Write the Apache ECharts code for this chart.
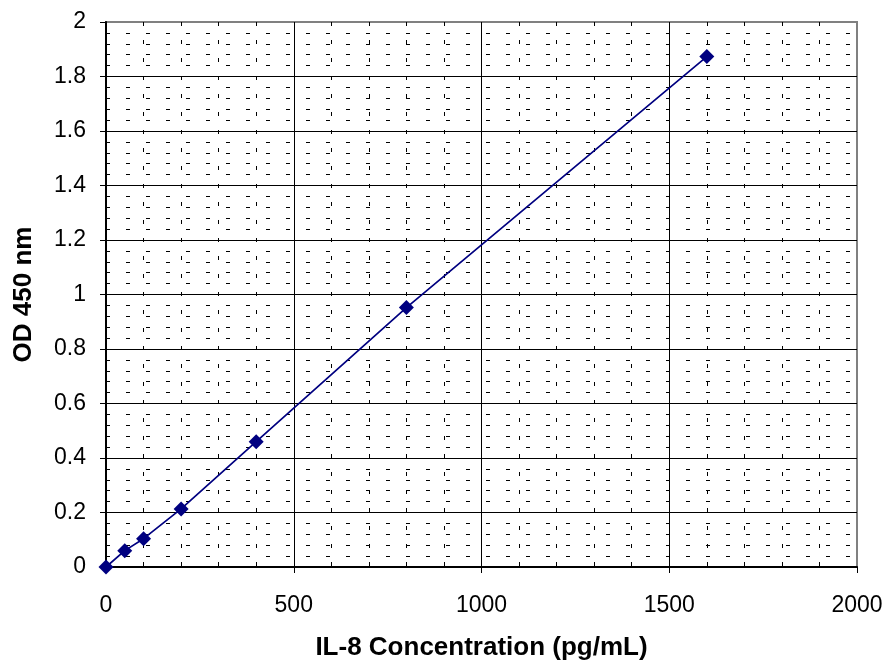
<!DOCTYPE html>
<html><head><meta charset="utf-8">
<script src="https://cdn.jsdelivr.net/npm/echarts@6/dist/echarts.min.js"></script>
<style>html,body{margin:0;padding:0;background:#fff}#c{width:889px;height:666px}</style>
</head><body><div id="c"></div>
<script>
const concentration = [0, 50, 100, 200, 400, 800, 1600];
const od450 = [0, 0.06, 0.104, 0.213, 0.46, 0.952, 1.873];
const xName = 'IL-8 Concentration (pg/mL)';
const yName = 'OD 450 nm';

const chart = echarts.init(document.getElementById('c'));
const font = 'Liberation Sans, Arial, sans-serif';
chart.setOption({
  animation: false,
  grid: {left: 106, top: 22, right: 32, bottom: 98, show: true, borderColor: '#808080', borderWidth: 2, backgroundColor: 'transparent'},
  xAxis: {
    type: 'value', min: 0, max: 2000, interval: 500,
    name: xName, nameLocation: 'middle', nameGap: 68,
    nameTextStyle: {fontFamily: font, fontWeight: 'bold', fontSize: 26, color: '#000'},
    axisLine: {show: true, lineStyle: {color: '#000', width: 2}},
    axisTick: {show: true, length: 6, lineStyle: {color: '#000'}},
    axisLabel: {fontFamily: font, fontSize: 23, color: '#000', margin: 27, formatter: v => String(v)},
    splitLine: {show: true, showMinLine: false, showMaxLine: false, lineStyle: {color: '#000', width: 1}},
    minorTick: {show: false, splitNumber: 5},
    minorSplitLine: {show: true, lineStyle: {color: '#000', width: 1, type: [4, 14]}}
  },
  yAxis: {
    type: 'value', min: 0, max: 2, interval: 0.2,
    name: yName, nameLocation: 'middle', nameGap: 69,
    nameTextStyle: {fontFamily: font, fontWeight: 'bold', fontSize: 26, color: '#000'},
    axisLine: {show: true, lineStyle: {color: '#000', width: 2}},
    axisTick: {show: true, length: 6, lineStyle: {color: '#000'}},
    axisLabel: {fontFamily: font, fontSize: 23, color: '#000', margin: 20, formatter: v => String(Math.round(v * 10) / 10)},
    splitLine: {show: true, showMinLine: false, showMaxLine: false, lineStyle: {color: '#000', width: 1}},
    minorTick: {show: false, splitNumber: 5},
    minorSplitLine: {show: true, lineStyle: {color: '#000', width: 1, type: [4, 16]}}
  },
  series: [{
    type: 'line',
    data: concentration.map((c, i) => [c, od450[i]]),
    symbol: 'diamond', symbolSize: 15,
    lineStyle: {color: '#000080', width: 1.7},
    itemStyle: {color: '#000080'},
    z: 5
  }]
});
</script></body></html>
